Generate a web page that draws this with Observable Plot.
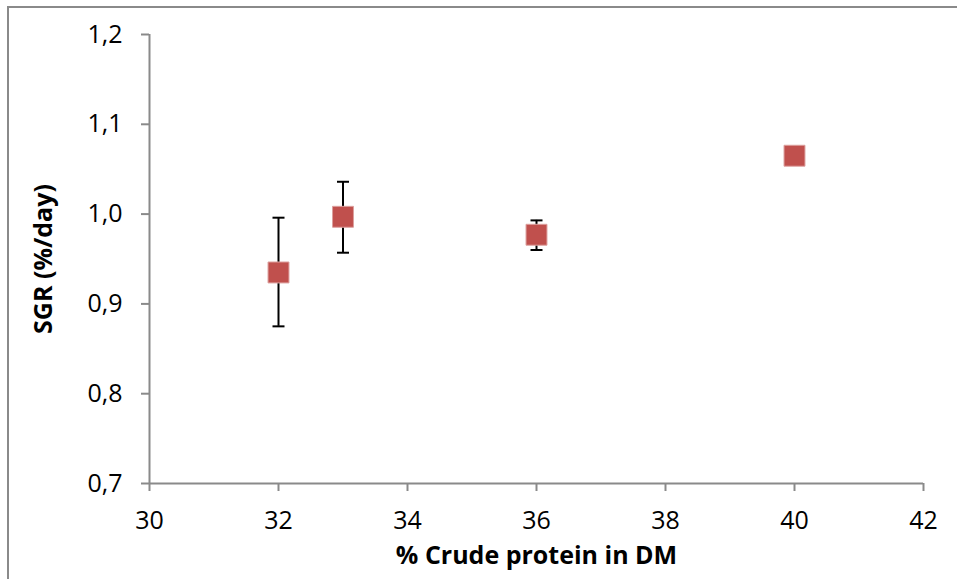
<!DOCTYPE html>
<html>
<head>
<meta charset="utf-8">
<script src="https://cdn.jsdelivr.net/npm/d3@7"></script>
<script src="https://cdn.jsdelivr.net/npm/@observablehq/plot@0.6"></script>
<style>
  html, body { margin: 0; padding: 0; background: #fff; }
  #wrap { position: relative; width: 957px; height: 579px; overflow: hidden; }
  #frame { position: absolute; left: 7px; top: 6px; width: 1000px; height: 1000px;
           border-left: 2px solid #8a8a8a; border-top: 2px solid #8a8a8a; box-sizing: border-box; }
  #chart { position: absolute; left: 0; top: 0; }
</style>
</head>
<body>
<div id="wrap"><div id="frame"></div><div id="chart"></div></div>
<script>
const protein = [32, 33, 36, 40];
const sgr = [0.935, 0.997, 0.977, 1.065];
const errLow = [0.875, 0.957, 0.960, null];
const errHigh = [0.996, 1.036, 0.993, null];
const xTicks = [30, 32, 34, 36, 38, 40, 42];
const yTicks = [0.7, 0.8, 0.9, 1.0, 1.1, 1.2];

const data = protein.map((x, i) => ({x, y: sgr[i], lo: errLow[i], hi: errHigh[i]}));
const errData = data.filter(d => d.lo != null);

const capSymbol = {
  draw(ctx, size) {
    const w = Math.sqrt(size / Math.PI);
    ctx.moveTo(-w, 0);
    ctx.lineTo(w, 0);
  }
};

const fmt = d => d3.format(".1f")(d).replace(".", ",");
const font = "'Open Sans', Lato, 'DejaVu Sans', sans-serif";

const chart = Plot.plot({
  width: 957,
  height: 579,
  marginLeft: 149,
  marginRight: 34,
  marginTop: 34,
  marginBottom: 96,
  style: {fontFamily: font, fontSize: "25px", color: "#000", background: "transparent"},
  x: {domain: [30, 42]},
  y: {domain: [0.7, 1.2]},
  marks: [
    Plot.ruleX([30], {stroke: "#8a8a8a", strokeWidth: 2}),
    Plot.ruleY([0.7], {stroke: "#8a8a8a", strokeWidth: 2}),
    Plot.axisX({ticks: xTicks, tickSize: 8, tickPadding: 20, stroke: "#8a8a8a", strokeWidth: 2,
      fill: "#000", label: null, fontSize: 25}),
    Plot.axisY({ticks: yTicks, tickSize: 8, tickPadding: 19, stroke: "#8a8a8a", strokeWidth: 2,
      fill: "#000", label: null, tickFormat: fmt, fontSize: 25}),
    Plot.text(["% Crude protein in DM"], {frameAnchor: "bottom", dy: 80, fontWeight: "bold", fontSize: 25, fill: "#000", lineAnchor: "bottom"}),
    Plot.text(["SGR (%/day)"], {frameAnchor: "left", dx: -106, rotate: -90, textAnchor: "middle", fontWeight: "bold", fontSize: 25, fill: "#000"}),
    Plot.ruleX(errData, {x: "x", y1: "lo", y2: "hi", stroke: "#000", strokeWidth: 2}),
    Plot.dot(errData, {x: "x", y: "lo", symbol: capSymbol, r: 6, stroke: "#000", strokeWidth: 2}),
    Plot.dot(errData, {x: "x", y: "hi", symbol: capSymbol, r: 6, stroke: "#000", strokeWidth: 2}),
    Plot.dot(data, {x: "x", y: "y", symbol: "square", r: 11.8, fill: "#c0504d", stroke: "#dc9f9d", strokeWidth: 1})
  ]
});
document.getElementById("chart").appendChild(chart);
</script>
</body>
</html>
